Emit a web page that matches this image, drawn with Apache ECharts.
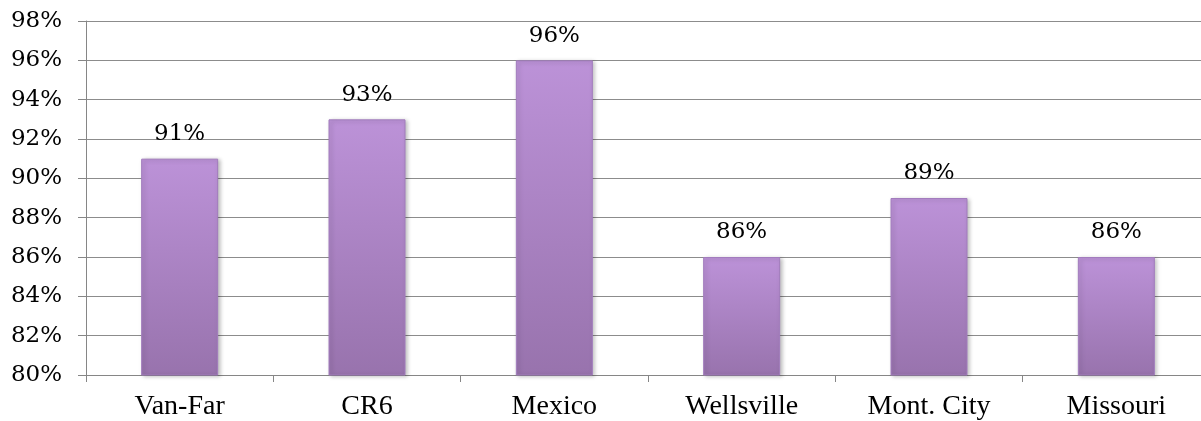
<!DOCTYPE html>
<html><head><meta charset="utf-8">
<script src="https://cdn.jsdelivr.net/npm/echarts@6/dist/echarts.min.js"></script>
<style>html,body{margin:0;padding:0;background:#fff;overflow:hidden;width:1201px;height:421px}#c{width:1210px;height:421px}</style>
</head><body><div id="c"></div>
<script>
const categories = ["Van-Far", "CR6", "Mexico", "Wellsville", "Mont. City", "Missouri"];
const values = [91, 93, 96, 86, 89, 86];
const yMin = 80, yMax = 98, yStep = 2;

const chart = echarts.init(document.getElementById('c'));
chart.setOption({
  animation: false,
  grid: {left: 86, right: 0, top: 21, bottom: 45},
  xAxis: {
    type: 'category', data: categories,
    axisLine: {lineStyle: {color: '#868686', width: 1}},
    axisTick: {show: true, length: 7, lineStyle: {color: '#868686'}},
    axisLabel: {color: '#000', fontFamily: 'Liberation Serif', fontSize: 28, margin: 18}
  },
  yAxis: {
    type: 'value', min: yMin, max: yMax, interval: yStep,
    axisLine: {show: true, lineStyle: {color: '#868686', width: 1}},
    axisTick: {show: true, length: 8, lineStyle: {color: '#868686'}},
    splitLine: {lineStyle: {color: '#8c8c8c', width: 1}},
    axisLabel: {color: '#000', fontFamily: 'DejaVu Serif', fontSize: 23, margin: 24,
      formatter: v => v + '%'}
  },
  series: [{
    type: 'bar', data: values, barWidth: 77,
    itemStyle: {
      color: new echarts.graphic.LinearGradient(0, 0, 0, 1, [
        {offset: 0, color: '#bc92d8'}, {offset: 1, color: '#9873ad'}]),
      borderColor: '#a27cbd', borderWidth: 1,
      shadowColor: 'rgba(0,0,0,0.25)', shadowBlur: 4, shadowOffsetX: 2, shadowOffsetY: 1
    },
    label: {show: true, position: 'top', distance: 13, color: '#000',
      fontFamily: 'DejaVu Serif', fontSize: 23, formatter: p => p.value + '%'}
  }]
});
</script></body></html>
